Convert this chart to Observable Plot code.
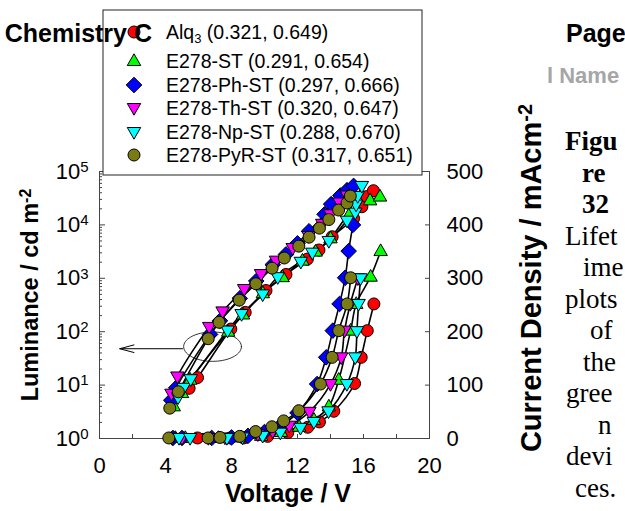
<!DOCTYPE html>
<html><head><meta charset="utf-8">
<script src="https://cdn.jsdelivr.net/npm/d3@7"></script>
<script src="https://cdn.jsdelivr.net/npm/@observablehq/plot@0.6"></script>
<style>
body{margin:0;background:#fff;}
#wrap{position:relative;width:625px;height:511px;overflow:hidden;background:#fff;}
#wrap svg{position:absolute;left:0;top:0;}
</style></head><body>
<div id="wrap"></div>
<script>
// ---------- data ----------
const seriesNames = ["Alq3", "E278-ST", "E278-Ph-ST", "E278-Th-ST", "E278-Np-ST", "E278-PyR-ST"];
const cieLabels = ["(0.321, 0.649)", "(0.291, 0.654)", "(0.297, 0.666)", "(0.320, 0.647)", "(0.288, 0.670)", "(0.317, 0.651)"];
const seriesColors = ["#ff0000", "#00ff00", "#0000ff", "#ff00ff", "#00ffff", "#7b7b14"];

// Luminance (cd m-2) vs voltage (V)
const lumV_Alq3 = [5.43, 5.94, 7.96, 8.83, 10.09, 11.3, 12.6, 13.3, 14.1, 15.4, 15.9, 16.2, 16.6];
const lum_Alq3  = [8.7, 13.8, 112, 230, 590, 1180, 2290, 3390, 6000, 13200, 21900, 33900, 43700];
const lumV_ST = [4.5, 5.0, 5.5, 7.8, 8.7, 9.9, 11.1, 12.3, 13.1, 14.0, 15.2, 16.4, 17.0];
const lum_ST  = [4.0, 7.1, 12.6, 100, 210, 525, 1050, 2140, 3160, 5600, 17000, 28800, 33900];
const lumV_Ph = [4.35, 4.65, 6.7, 7.3, 8.5, 9.5, 10.5, 11.3, 12.0, 12.7, 13.64, 14.04, 14.6, 15.0, 15.4];
const lum_Ph  = [5.2, 8.9, 89, 160, 420, 890, 1800, 2800, 4500, 7600, 15800, 24500, 35500, 44700, 53700];
const lumV_Th = [4.36, 4.72, 6.65, 7.46, 8.77, 9.79, 10.7, 11.71, 12.67, 13.5, 14.0, 14.55, 15.0];
const lum_Th  = [6.9, 14.5, 123, 240, 630, 1200, 2140, 3700, 6200, 10500, 15800, 26300, 35500];
const lumV_Np = [4.76, 5.1, 5.53, 7.76, 8.61, 9.89, 10.8, 12.2, 12.9, 13.9, 15.0, 15.5, 15.55, 15.65, 15.9];
const lum_Np  = [5.9, 8.9, 12.9, 105, 214, 500, 1050, 2040, 3020, 5000, 12000, 17000, 24000, 34700, 53700];
const lumV_PyR = [4.26, 4.78, 6.59, 7.25, 8.47, 9.48, 10.46, 11.2, 12.08, 12.7, 13.33, 13.9, 14.49, 15.0, 15.2];
const lum_PyR  = [3.7, 7.5, 74, 150, 390, 790, 1550, 2400, 4000, 5900, 8700, 12600, 19000, 25700, 34700];

// Current density (mA cm-2) vs voltage (V)
const curV_Alq3 = [5.94, 7.92, 8.74, 10.19, 11.41, 12.62, 13.33, 14.2, 15.46, 15.86, 16.23, 16.63];
const cur_Alq3  = [1, 1, 1, 4, 11, 21, 31, 51, 103, 152, 202, 252];
const curV_ST = [4.6, 5.2, 7.2, 8.6, 9.8, 11.0, 12.1, 13.0, 13.9, 14.5, 15.22, 15.56, 16.43, 17.04];
const cur_ST  = [1, 1, 1, 2, 5, 12, 22, 35, 60, 110, 202, 252, 303, 351];
const curV_Ph = [4.45, 5.0, 6.8, 8.0, 9.0, 10.0, 11.0, 12.0, 13.19, 13.74, 14.14, 14.55, 14.89, 15.1, 15.36];
const cur_Ph  = [1, 1, 1, 2, 5, 12, 25, 48, 102, 152, 202, 252, 301, 351, 400];
const curV_Th = [4.4, 5.0, 6.6, 7.6, 8.7, 9.6, 10.5, 11.5, 12.72, 14.0, 14.65, 14.85, 15.2, 15.66];
const cur_Th  = [1, 1, 1, 2, 4, 8, 14, 24, 50, 102, 152, 202, 252, 300];
const curV_Np = [4.82, 5.49, 7.72, 8.67, 9.89, 10.96, 12.18, 12.99, 13.88, 14.99, 15.5, 15.6, 15.7, 15.82];
const cur_Np  = [1, 1, 1, 2, 5, 11, 20, 31, 51, 102, 152, 201, 252, 300];
const curV_PyR = [4.2, 6.58, 7.3, 8.5, 9.46, 10.45, 11.16, 12.08, 13.39, 14.1, 14.5, 15.01, 15.22];
const cur_PyR  = [1, 1, 2, 4, 13, 22, 33, 52, 102, 152, 202, 252, 301];

// axis ticks
const xTickLabels = [0, 4, 8, 12, 16, 20];
const xTicksAll = [0, 2, 4, 6, 8, 10, 12, 14, 16, 18, 20];
const lumTicks = [1, 10, 100, 1000, 10000, 100000];
const curTicks = [0, 100, 200, 300, 400, 500];

// ---------- build tables ----------
const lumSets = [[lumV_Alq3, lum_Alq3], [lumV_ST, lum_ST], [lumV_Ph, lum_Ph], [lumV_Th, lum_Th], [lumV_Np, lum_Np], [lumV_PyR, lum_PyR]];
const curSets = [[curV_Alq3, cur_Alq3], [curV_ST, cur_ST], [curV_Ph, cur_Ph], [curV_Th, cur_Th], [curV_Np, cur_Np], [curV_PyR, cur_PyR]];
// current density axis (0..500, linear) shares the frame with the log luminance axis (1..1e5)
const curToY = j => Math.pow(10, j / 100);
const lumRows = seriesNames.map((s, i) => lumSets[i][0].map((v, k) => ({s, V: v, Y: lumSets[i][1][k]})));
const curRows = seriesNames.map((s, i) => curSets[i][0].map((v, k) => ({s, V: v, Y: curToY(curSets[i][1][k])})));
const minorTicks = [];
for (const t of lumTicks.slice(0, -1)) for (let m = 2; m <= 9; m++) minorTicks.push(t * m);

// symbols
function sym(f) { return {draw(c, size) { f(c, Math.sqrt(size / Math.PI)); }}; }
const symCircle = sym((c, s) => { c.moveTo(s, 0); c.arc(0, 0, s, 0, 2 * Math.PI); });
const symUp = sym((c, s) => { c.moveTo(0, -1.2 * s); c.lineTo(1.12 * s, 0.75 * s); c.lineTo(-1.12 * s, 0.75 * s); c.closePath(); });
const symDown = sym((c, s) => { c.moveTo(0, 1.2 * s); c.lineTo(1.12 * s, -0.75 * s); c.lineTo(-1.12 * s, -0.75 * s); c.closePath(); });
const symDiamond = sym((c, s) => { c.moveTo(0, -1.3 * s); c.lineTo(1.3 * s, 0); c.lineTo(0, 1.3 * s); c.lineTo(-1.3 * s, 0); c.closePath(); });
const seriesSymbols = [symCircle, symUp, symDiamond, symDown, symDown, symCircle];

// annotation: ellipse around the luminance curves and arrow pointing to the left axis
const ell = {cx: 6.85, cy: 1.72, rx: 1.75, ry: 0.275};
const ellRows = d3.range(0, 73).map(i => { const t = i / 72 * 2 * Math.PI; return {V: ell.cx + ell.rx * Math.cos(t), Y: Math.pow(10, ell.cy + ell.ry * Math.sin(t))}; });
const arrowRows = [{x1: 5.03, y1: 48, x2: 1.23, y2: 48}];

const lineMarks = [];
seriesNames.forEach((s, i) => {
  lineMarks.push(Plot.line(lumRows[i], {x: "V", y: "Y", curve: "catmull-rom", stroke: "black", strokeWidth: 1.6}));
  lineMarks.push(Plot.line(curRows[i], {x: "V", y: "Y", curve: "catmull-rom", stroke: "black", strokeWidth: 1.6}));
});
const dotMarks = [];
seriesNames.forEach((s, i) => {
  for (const rows of [lumRows[i], curRows[i]])
    dotMarks.push(Plot.dot(rows, {x: "V", y: "Y", r: 6, symbol: seriesSymbols[i], fill: seriesColors[i], stroke: "black", strokeWidth: 1}));
});

const chart = Plot.plot({
  width: 625, height: 511,
  marginLeft: 99, marginRight: 196, marginTop: 171, marginBottom: 73,
  style: {fontFamily: "'Liberation Sans', Arial, sans-serif", fontSize: "22px", color: "black", background: "transparent", overflow: "visible"},
  x: {domain: [0, 20]},
  y: {type: "log", domain: [1, 1e5]},
  marks: [
    Plot.frame({stroke: "#444"}),
    Plot.axisX({ticks: xTickLabels, tickSize: 0, tickPadding: 19, fontSize: 22, tickFormat: d => String(d), label: null}),
    Plot.axisX({ticks: xTicksAll, tickSize: -4, tickFormat: () => "", label: null, stroke: "#444"}),
    Plot.axisY({anchor: "left", ticks: lumTicks, tickSize: 0, tickPadding: 11, fontSize: 22, tickFormat: d => "10^" + Math.round(Math.log10(d)), label: null}),
    Plot.axisY({anchor: "left", ticks: lumTicks, tickSize: -6, tickFormat: () => "", label: null, stroke: "#444"}),
    Plot.axisY({anchor: "left", ticks: minorTicks, tickSize: -3, tickFormat: () => "", label: null, stroke: "#444"}),
    Plot.axisY({anchor: "right", ticks: curTicks.map(curToY), tickSize: 0, tickPadding: 17, fontSize: 22, tickFormat: d => String(Math.round(Math.log10(d) * 100)), label: null}),
    Plot.axisY({anchor: "right", ticks: curTicks.map(curToY), tickSize: -5, tickFormat: () => "", label: null, stroke: "#444"}),
    Plot.line(ellRows, {x: "V", y: "Y", stroke: "black", strokeWidth: 0.8}),
    Plot.arrow(arrowRows, {x1: "x1", y1: "y1", x2: "x2", y2: "y2", stroke: "black", strokeWidth: 1, headLength: 22, headAngle: 30}),
    ...lineMarks,
    ...dotMarks
  ]
});
const wrap = document.getElementById("wrap");
wrap.appendChild(chart);

// superscript exponents on the log tick labels
chart.querySelectorAll("text").forEach(t => {
  const m = t.textContent.match(/^10\^(\d)$/);
  if (m) {
    t.textContent = "10";
    const ts = document.createElementNS("http://www.w3.org/2000/svg", "tspan");
    ts.setAttribute("dy", "-0.45em");
    ts.setAttribute("font-size", "15");
    ts.textContent = m[1];
    t.appendChild(ts);
  }
});

// ---------- overlay: titles, legend, page fragments ----------
const ov = d3.create("svg").attr("width", 625).attr("height", 511)
  .style("font-family", "'Liberation Sans', Arial, sans-serif");

// axis titles
const lt = ov.append("text").attr("transform", "translate(38,295) rotate(-90)").attr("text-anchor", "middle")
  .attr("font-size", 23.5).attr("font-weight", "bold");
lt.append("tspan").text("Luminance / cd m");
lt.append("tspan").attr("dy", "-0.45em").attr("font-size", 16).text("-2");
const rt = ov.append("text").attr("transform", "translate(541,278) rotate(-90)").attr("text-anchor", "middle")
  .attr("font-size", 29).attr("font-weight", "bold");
rt.append("tspan").text("Current Density / mAcm");
rt.append("tspan").attr("dy", "-0.45em").attr("font-size", 20).text("-2");
ov.append("text").attr("x", 288).attr("y", 502).attr("text-anchor", "middle")
  .attr("font-size", 25).attr("font-weight", "bold").text("Voltage / V");

// legend
ov.append("rect").attr("x", 103).attr("y", 10).attr("width", 319).attr("height", 165)
  .attr("fill", "white").attr("stroke", "#222").attr("stroke-width", 1);
const rowY = [32, 61, 85, 108, 132, 155];
seriesNames.forEach((s, i) => {
  ov.append("path").attr("d", d3.symbol(seriesSymbols[i], Math.PI * 36)())
    .attr("transform", `translate(134,${rowY[i]})`)
    .attr("fill", seriesColors[i]).attr("stroke", "black").attr("stroke-width", 1);
  const t = ov.append("text").attr("x", 166).attr("y", rowY[i] + 7).attr("font-size", 19.5);
  if (s === "Alq3") {
    t.append("tspan").text("Alq");
    t.append("tspan").attr("dy", 4).attr("font-size", 13).text("3");
    t.append("tspan").attr("dy", -4).text(" " + cieLabels[i]);
  } else {
    t.text(s + " " + cieLabels[i]);
  }
});

// page fragments around the figure
ov.append("text").attr("x", 152).attr("y", 42).attr("text-anchor", "end")
  .attr("font-size", 25).attr("font-weight", "bold").text("Chemistry C");
ov.append("text").attr("x", 566).attr("y", 42).attr("font-size", 25).attr("font-weight", "bold").text("Page");
ov.append("text").attr("x", 547).attr("y", 83).attr("font-size", 22).attr("font-weight", "bold").attr("fill", "#a6a6a6").text("l Name");
const sideText = [
  ["Figu", 565, true], ["re", 582, true], ["32", 582, true], ["Lifet", 565, false], ["ime", 583, false],
  ["plots", 565, false], ["of", 590, false], ["the", 583, false], ["gree", 566, false], ["n", 598, false],
  ["devi", 566, false], ["ces.", 575, false]
];
sideText.forEach(([txt, x, b], i) => {
  ov.append("text").attr("x", x).attr("y", 150 + i * 31.5)
    .attr("font-family", "'Liberation Serif', 'Times New Roman', serif")
    .attr("font-size", 27).attr("font-weight", b ? "bold" : "normal").text(txt);
});
wrap.appendChild(ov.node());
</script>
</body></html>
